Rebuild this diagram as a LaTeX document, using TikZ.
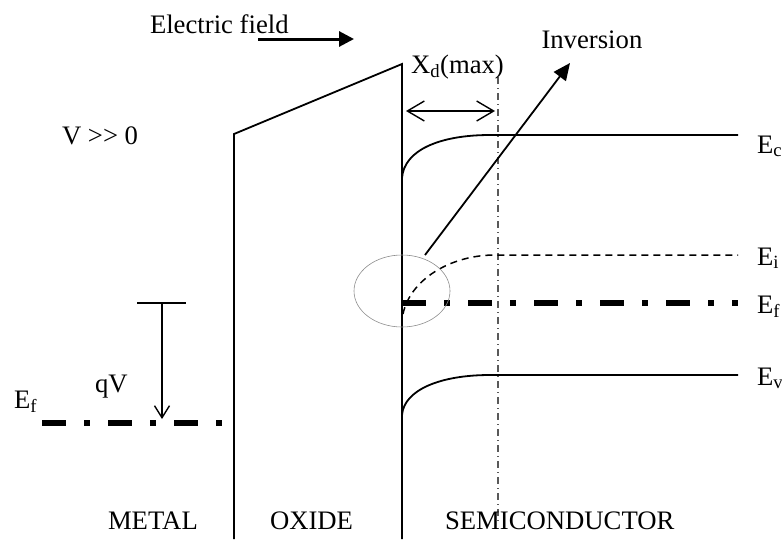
\documentclass[tikz,border=0pt]{standalone}
\usepackage{fontspec}
\setmainfont{Liberation Serif}
\usetikzlibrary{arrows.meta,shapes.geometric}
\tikzset{
  lbl/.style={anchor=base west,inner sep=0pt,outer sep=0pt,font=\fontsize{26.7}{30}\selectfont},
  band/.style={line width=1.8pt,black},
  fermi/.style={line width=6pt,black,dash pattern=on 24pt off 18pt on 6pt off 18pt},
  intrinsic/.style={line width=1.5pt,black,dash pattern=on 7pt off 5pt},
  guide/.style={line width=1.3pt,black!65,dash pattern=on 7pt off 4pt on 1pt off 4pt},
  solidtip/.style={-{Triangle[length=17pt,width=15pt]},line width=1.8pt},
  fieldtip/.style={-{Triangle[length=15pt,width=15pt]},line width=3pt},
  opentip/.style={-{Straight Barb[length=12pt,width=15pt,line width=1.4pt]},line width=1.5pt},
  twotip/.style={{Straight Barb[length=17pt,width=20pt,line width=1.4pt]}-{Straight Barb[length=17pt,width=20pt,line width=1.4pt]},line width=1.6pt},
  ring/.style={draw=black!45,line width=0.6pt,ellipse,minimum width=96pt,minimum height=72pt,inner sep=0pt}
}
\begin{document}
\begin{tikzpicture}[x=1pt,y=-1pt]
\useasboundingbox (0,0) rectangle (782,539);
% oxide outline
\coordinate (oxbl) at (234,539);
\coordinate (oxtl) at (234,134);
\coordinate (oxtr) at (402,64);
\coordinate (oxbr) at (402,539);
\draw[band,line join=miter] (oxbl) -- (oxtl) -- (oxtr) -- (oxbr);
% guide
\coordinate (gt) at (498,77);
\coordinate (gb) at (498,522);
\draw[guide] (gt) -- (gb);
% bands
\coordinate (ecs) at (402,178);
\coordinate (ecm) at (490,135);
\coordinate (ece) at (738,135);
\draw[band] (ecs) .. controls (404,150) and (440,135) .. (ecm) -- (ece);
\coordinate (evs) at (402,415);
\coordinate (evm) at (490,375);
\coordinate (eve) at (738,375);
\draw[band] (evs) .. controls (404,390) and (440,375) .. (evm) -- (eve);
\coordinate (eis) at (403,314);
\coordinate (eim) at (495,255);
\coordinate (eie) at (738,255);
\draw[intrinsic] (eis) .. controls (410,280) and (450,255) .. (eim) -- (eie);
\coordinate (fs) at (402,303);
\coordinate (fe) at (738,303);
\draw[fermi] (fs) -- (fe);
\coordinate (fls) at (42,423);
\coordinate (fle) at (222,423);
\draw[fermi] (fls) -- (fle);
% circle
\node[ring] (inv) at (402,291) {};
% arrows
\coordinate (ia) at (425,255);
\coordinate (ib) at (570,63);
\draw[solidtip] (ia) -- (ib);
\coordinate (ea) at (258,39);
\coordinate (eb) at (354,39);
\draw[fieldtip] (ea) -- (eb);
\coordinate (xa) at (406,111);
\coordinate (xb) at (495,111);
\draw[twotip] (xa) -- (xb);
\coordinate (ta) at (137,303);
\coordinate (tb) at (186,303);
\coordinate (tc) at (162,303);
\coordinate (td) at (162,419);
\draw[line width=1.3pt] (ta) -- (tb);
\draw[opentip] (tc) -- (td);
% labels
\node[lbl] (l1) at (150,33) {Electric field};
\node[lbl] (l2) at (541.5,48) {Inversion};
\node[lbl] (l3) at (411,73) {X\textsubscript{d}(max)};
\node[lbl] (l4) at (62,144) {V >{}> 0};
\node[lbl] (l5) at (757,153) {E\textsubscript{c}};
\node[lbl] (l6) at (757,265) {E\textsubscript{i}};
\node[lbl] (l7) at (757,313) {E\textsubscript{f}};
\node[lbl] (l8) at (757,385) {E\textsubscript{v}};
\node[lbl] (l9) at (14,408) {E\textsubscript{f}};
\node[lbl] (l10) at (95,392) {qV};
\node[lbl] (l11) at (108,529) {METAL};
\node[lbl] (l12) at (270,529) {OXIDE};
\node[lbl] (l13) at (445,529) {SEMICONDUCTOR};
\end{tikzpicture}
\end{document}
